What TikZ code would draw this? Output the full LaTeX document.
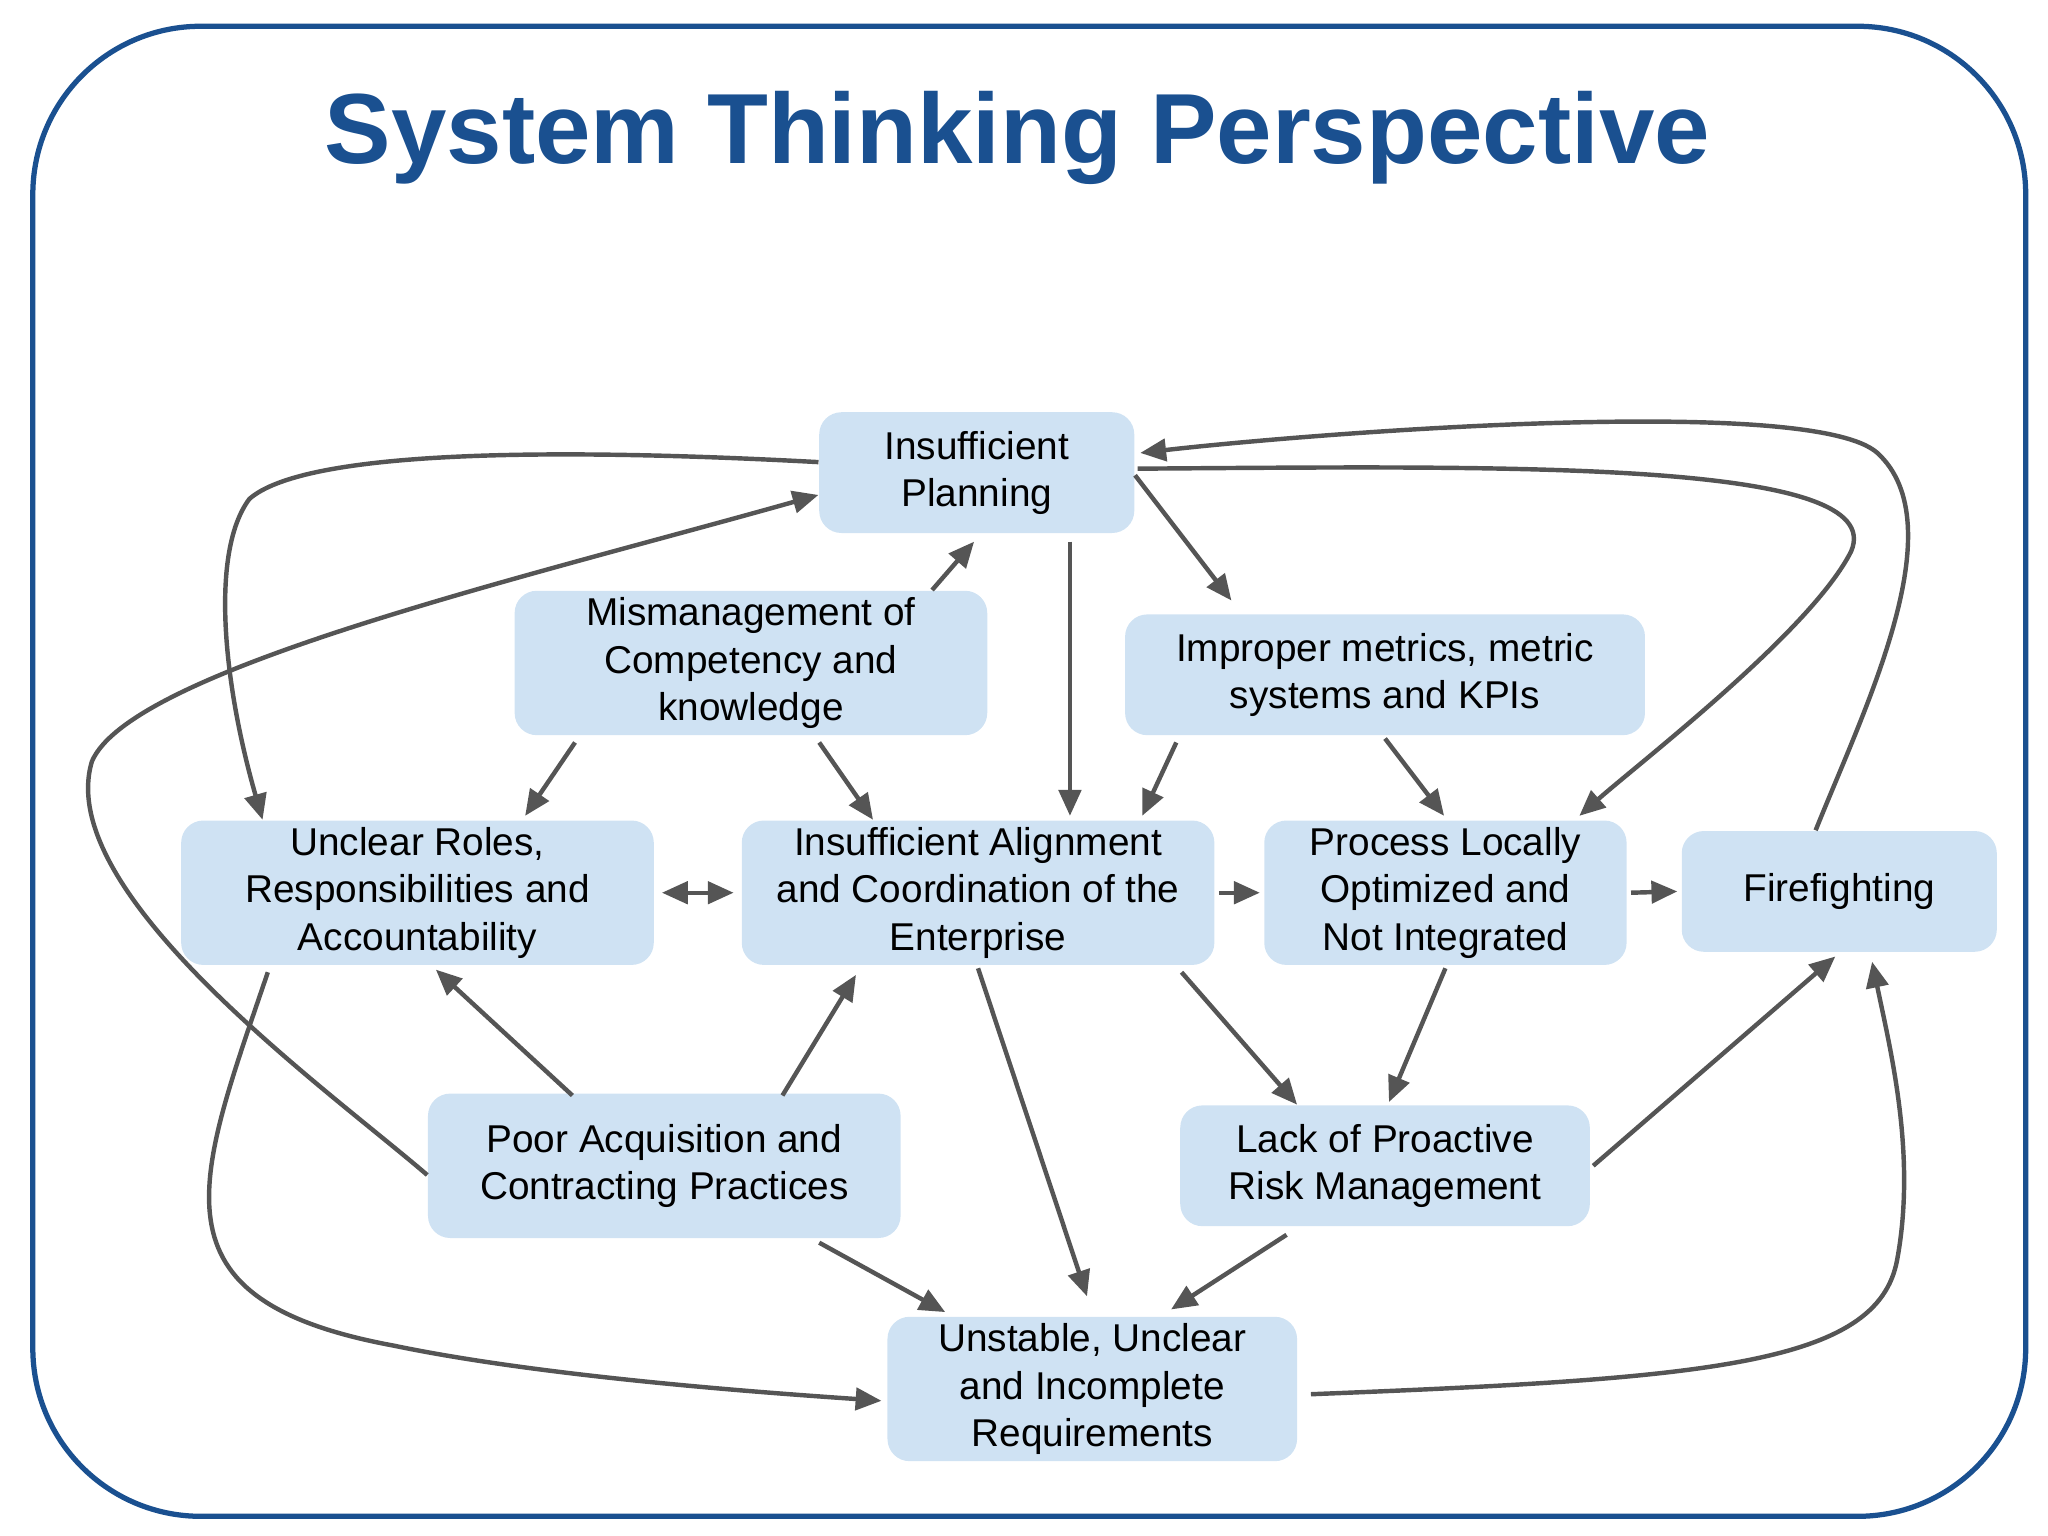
\documentclass[tikz,border=0pt]{standalone}
\usepackage{fontspec}
\setmainfont{Liberation Sans}
\usetikzlibrary{arrows.meta}
\definecolor{frameblue}{HTML}{1A5090}
\definecolor{boxblue}{HTML}{CFE2F3}
\definecolor{linegray}{HTML}{555555}
\tikzset{
  box/.style 2 args={rectangle, rounded corners=6pt, fill=boxblue, draw=none, align=center,
    font=\fontsize{10.5}{12.8}\selectfont, inner sep=0pt,
    minimum width=#1*0.0125cm, minimum height=#2*0.0125cm},
  link/.style={draw=linegray, line width=1.2pt, -{Triangle[length=7pt,width=6pt]}},
}
\begin{document}
\begin{tikzpicture}[x=0.0125cm, y=-0.0125cm]
\useasboundingbox (0,0) rectangle (1560,1170);
\draw[frameblue, line width=0.05cm, rounded corners=1.6cm] (25,20) rectangle (1543,1155);
\node[font=\fontsize{27}{32}\selectfont\bfseries, text=frameblue] (title) at (775,105) {System Thinking Perspective};
% nodes
\node[box={240}{92}] (plan) at (744,360) {Insufficient\\Planning};
\node[box={360}{110}] (mism) at (572,505) {Mismanagement of\\Competency and\\knowledge};
\node[box={396}{92}] (metr) at (1055,514) {Improper metrics, metric\\systems and KPIs};
\node[box={360}{110}] (roles) at (318,680) {Unclear Roles,\\Responsibilities and\\Accountability};
\node[box={360}{110}] (align) at (745,680) {Insufficient Alignment\\and Coordination of the\\Enterprise};
\node[box={276}{110}] (proc) at (1101,680) {Process Locally\\Optimized and\\Not Integrated};
\node[box={240}{92}] (fire) at (1401,679) {Firefighting};
\node[box={360}{110}] (poor) at (506,888) {Poor Acquisition and\\Contracting Practices};
\node[box={312}{92}] (risk) at (1055,888) {Lack of Proactive\\Risk Management};
\node[box={312}{110}] (req) at (832,1058) {Unstable, Unclear\\and Incomplete\\Requirements};
% links
\draw[link] ([shift={(0,-8)}]plan.west) .. controls (400,340) and (230,345) .. (190,380) .. controls (160,420) and (170,520) .. ([shift={(-118,0)}]roles.north);
\draw[link] ([shift={(0,7)}]poor.west) .. controls (250,830) and (40,680) .. (70,580) .. controls (100,510) and (400,440) .. ([shift={(0,17)}]plan.west);
\draw[link] ([shift={(138,0)}]mism.north) -- ([shift={(-2,6)}]plan.south);
\draw[link] ([shift={(71,6)}]plan.south) -- ([shift={(70,-3)}]align.north);
\draw[link] ([shift={(0,2)}]plan.east) -- ([shift={(-117,-10)}]metr.north);
\draw[link] ([shift={(-18,0)}]fire.north) .. controls (1420,540) and (1490,400) .. (1430,345) .. controls (1380,300) and (1000,330) .. ([shift={(4,-15)}]plan.east);
\draw[link] ([shift={(2,-3)}]plan.east) .. controls (1150,355) and (1440,350) .. (1410,420) .. controls (1380,480) and (1250,580) .. ([shift={(102,-3)}]proc.north);
\draw[link] ([shift={(-134,5)}]mism.south) -- ([shift={(82,-3)}]roles.north);
\draw[link] ([shift={(52,5)}]mism.south) -- ([shift={(-80,0)}]align.north);
\draw[link] ([shift={(-159,5)}]metr.south) -- ([shift={(125,-3)}]align.north);
\draw[link] ([shift={(0,2)}]metr.south) -- ([shift={(-1,-3)}]proc.north);
\draw[link, {Triangle[length=7pt,width=6pt]}-{Triangle[length=7pt,width=6pt]}] ([xshift=2pt]roles.east) -- ([xshift=-2pt]align.west);
\draw[link] ([xshift=1pt]align.east) -- ([xshift=-1pt]proc.west);
\draw[link] ([xshift=1pt]proc.east) -- ([xshift=-1pt]fire.west);
\draw[link] ([shift={(-70,2)}]poor.north) -- ([shift={(14,3)}]roles.south);
\draw[link] ([shift={(90,2)}]poor.north) -- ([shift={(-93,7)}]align.south);
\draw[link] ([shift={(0,2)}]align.south) -- ([shift={(-4,-15)}]req.north);
\draw[link] ([shift={(155,5)}]align.south) -- ([shift={(-67,0)}]risk.north);
\draw[link] ([shift={(0,2)}]proc.south) -- ([shift={(3,-2)}]risk.north);
\draw[link] ([shift={(2,0)}]risk.east) -- ([shift={(-3,3)}]fire.south);
\draw[link] ([shift={(-75,6)}]risk.south) -- ([shift={(60,-5)}]req.north);
\draw[link] ([shift={(118,3)}]poor.south) -- ([shift={(-112,-3)}]req.north);
\draw[link] ([shift={(-114,5)}]roles.south) .. controls (150,900) and (110,990) .. (300,1025) .. controls (420,1050) and (600,1062) .. ([shift={(-4,9)}]req.west);
\draw[link] ([shift={(10,4)}]req.east) .. controls (1300,1050) and (1430,1040) .. (1445,960) .. controls (1460,880) and (1440,800) .. ([shift={(25,7)}]fire.south);
\end{tikzpicture}
\end{document}
